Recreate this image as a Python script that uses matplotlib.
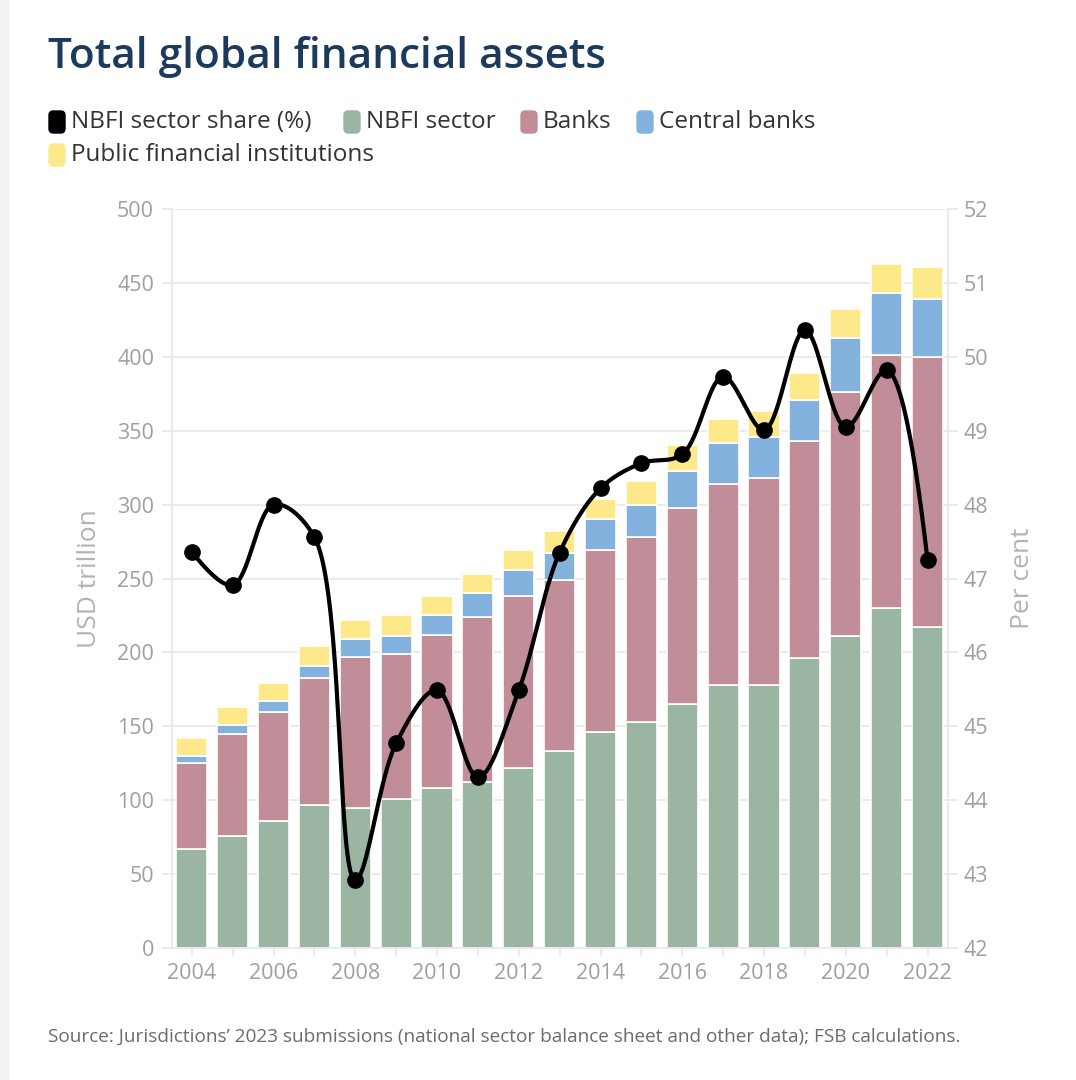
"""Total global financial assets: stacked bars by sector plus NBFI share line."""
import matplotlib

matplotlib.use("Agg")
import matplotlib.pyplot as plt
import numpy as np
from matplotlib.patches import FancyBboxPatch, Rectangle

plt.rcParams["font.family"] = ["Open Sans", "DejaVu Sans"]

years = list(range(2004, 2023))
nbfi = [67, 76, 86, 97, 95, 101, 108, 112, 122, 133, 146, 153, 165, 178, 178, 196, 211, 230, 217]
banks = [58, 69, 74, 86, 102, 98, 104, 112, 116, 116, 123, 125, 133, 136, 140, 147, 165, 171, 183]
central_banks = [5, 6, 7, 8, 12, 12, 13, 16, 18, 18, 21, 22, 25, 28, 28, 28, 37, 42, 39]
public_fi = [12, 12, 12, 13, 13, 14, 13, 13, 13, 15, 14, 16, 17, 16, 17, 18, 19, 20, 22]
nbfi_share = [47.36, 46.91, 48.0, 47.56, 42.92, 44.77, 45.49, 44.31, 45.49, 47.35,
              48.22, 48.56, 48.68, 49.73, 49.01, 50.36, 49.05, 49.82, 47.25]

series = [
    ("NBFI sector", nbfi, "#9bb5a3"),
    ("Banks", banks, "#c08d98"),
    ("Central banks", central_banks, "#83b2df"),
    ("Public financial institutions", public_fi, "#fde98a"),
]

GRID = "#e8e8e8"
TICK = "#9f9f9f"


def _bez(p0, c0, c1, p1, n=40):
    t = np.linspace(0, 1, n)[:, None]
    return ((1 - t) ** 3 * p0 + 3 * (1 - t) ** 2 * t * c0
            + 3 * (1 - t) * t ** 2 * c1 + t ** 3 * p1)


def spline_pixels(pts, smoothness=1.0):
    """Plotly-style smoothed path through points given in display pixels."""
    tang = []
    for i in range(1, len(pts) - 1):
        d1 = pts[i - 1] - pts[i]
        d2 = pts[i + 1] - pts[i]
        d1a = np.hypot(*d1) ** 0.5
        d2a = np.hypot(*d2) ** 0.5
        num = (d2a ** 2 * d1 - d1a ** 2 * d2) * smoothness
        tang.append((pts[i] + num / (3 * d2a * (d1a + d2a)),
                     pts[i] - num / (3 * d1a * (d1a + d2a))))
    segs = []
    # first and last segments are quadratic, written as cubic
    q = tang[0][0]
    segs.append(_bez(pts[0], pts[0] + 2 / 3 * (q - pts[0]), pts[1] + 2 / 3 * (q - pts[1]), pts[1]))
    for i in range(2, len(pts) - 1):
        segs.append(_bez(pts[i - 1], tang[i - 2][1], tang[i - 1][0], pts[i]))
    q = tang[-1][1]
    segs.append(_bez(pts[-2], pts[-2] + 2 / 3 * (q - pts[-2]), pts[-1] + 2 / 3 * (q - pts[-1]), pts[-1]))
    return np.vstack(segs)


fig = plt.figure(figsize=(10.76, 10.80), dpi=100)
fig.patches.append(Rectangle((0, 0), 0.007, 1, transform=fig.transFigure,
                             color="#f3f3f3", zorder=0))

ax = fig.add_axes([0.16, 0.1222, 0.721, 0.6843])
x = np.arange(len(years))
bottom = np.zeros(len(years))
for name, vals, color in series:
    ax.bar(x, vals, width=0.76, bottom=bottom, color=color, edgecolor="white",
           linewidth=1.2, zorder=2)
    bottom += np.array(vals)

ax.set_xlim(-0.48, 18.5)
ax.set_ylim(0, 500)
ax.set_yticks(range(0, 501, 50))
ax.set_xticks(x)
ax.set_xticklabels([str(y) if y % 2 == 0 else "" for y in years])
ax.grid(axis="y", color=GRID, lw=1.2, zorder=0)
ax.set_axisbelow(True)
for side in ("top", "right"):
    ax.spines[side].set_visible(False)
for side in ("left", "bottom"):
    ax.spines[side].set_color(GRID)
    ax.spines[side].set_linewidth(1.2)
ax.tick_params(axis="y", length=7, width=1.2, color=GRID, pad=6, labelsize=15.5, labelcolor=TICK)
ax.tick_params(axis="x", length=6, width=1.2, color=GRID, pad=5, labelsize=15.5, labelcolor=TICK)
ax.set_ylabel("USD trillion", fontsize=19, color="#b3b3b3")
ax.yaxis.set_label_coords(-0.090, 0.5)

ax2 = ax.twinx()
ax2.set_ylim(42, 52)
ax2.set_yticks(range(42, 53))
for side in ("top", "left", "bottom"):
    ax2.spines[side].set_visible(False)
ax2.spines["right"].set_color(GRID)
ax2.spines["right"].set_linewidth(1.2)
ax2.tick_params(axis="y", length=7, width=1.2, color=GRID, pad=4, labelsize=15.5, labelcolor=TICK)
ax2.set_ylabel("Per cent", fontsize=19, color="#b3b3b3")
ax2.yaxis.set_label_coords(1.080, 0.5)

pix = ax2.transData.transform(np.column_stack([x, nbfi_share]))
curve = ax2.transData.inverted().transform(spline_pixels(pix))
ax2.plot(curve[:, 0], curve[:, 1], color="black", lw=3, zorder=3, solid_capstyle="round")
ax2.plot(x, nbfi_share, "o", color="black", ms=11, zorder=4)

fig.text(0.045, 1 - 57 / 1080, "Total global financial assets", fontsize=30.4,
         fontweight="semibold", color="#1b3a5c", va="center")

legend_items = [
    ("NBFI sector share (%)", "black", 48, 122),
    ("NBFI sector", series[0][2], 343, 122),
    ("Banks", series[1][2], 520, 122),
    ("Central banks", series[2][2], 636, 122),
    ("Public financial institutions", series[3][2], 48, 155),
]
W, H = 1076, 1080
for label, color, px, py in legend_items:
    fig.patches.append(FancyBboxPatch(((px + 1) / W, (H - py - 11) / H), 16 / W, 22 / H,
                                      boxstyle="round,pad=0,rounding_size=0.004",
                                      transform=fig.transFigure, color=color))
    fig.text((px + 23) / W, (H - py) / H, label, fontsize=17.5, color="#333333", va="center")

fig.text(0.045, 1 - 1037 / H,
         "Source: Jurisdictions\u2019 2023 submissions (national sector balance sheet and other data); "
         "FSB calculations.", fontsize=13.7, color="#6b6b6b", va="center")

fig.savefig("out.png", dpi=100)
